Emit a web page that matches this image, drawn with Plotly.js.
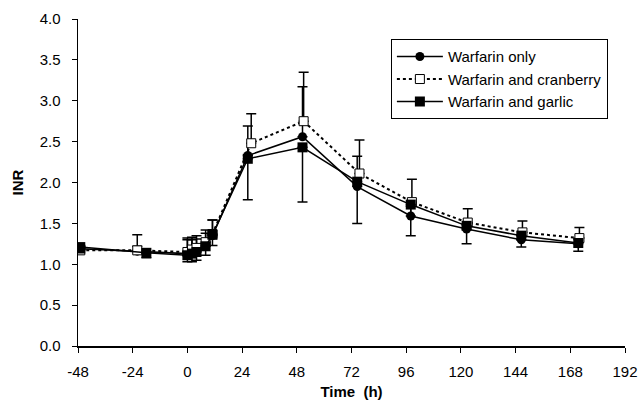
<!DOCTYPE html>
<html>
<head>
<meta charset="utf-8">
<script src="https://cdn.plot.ly/plotly-3.0.1.min.js"></script>
<style>html,body{margin:0;padding:0;background:#fff}#chart{width:639px;height:401px}</style>
</head>
<body>
<div id="chart"></div>
<script>
// Data
const seriesNames = ["Warfarin only", "Warfarin and cranberry", "Warfarin and garlic"];

const timeWarfarin = [-47, -22, 0, 2, 4, 8, 11, 26.5, 50.5, 74.5, 98, 122.5, 146.5, 171.5];
const inrWarfarin  = [1.19, 1.16, 1.13, 1.15, 1.18, 1.23, 1.35, 2.33, 2.56, 1.95, 1.59, 1.43, 1.30, 1.25];
const errUpWarfarin = [0.04, 0.06, 0.17, 0.15, 0.13, 0.15, 0.19, 0.36, 0.61, 0.37, 0.12, 0.06, 0.06, 0.06];

const timeCranberry = [-47, -22, 0, 2, 4, 8, 11, 28, 51, 75.5, 98.5, 123, 147, 172];
const inrCranberry  = [1.17, 1.17, 1.15, 1.18, 1.20, 1.27, 1.37, 2.48, 2.75, 2.11, 1.76, 1.51, 1.39, 1.32];
const errUpCranberry = [0.05, 0.19, 0.17, 0.15, 0.15, 0.15, 0.17, 0.36, 0.60, 0.41, 0.28, 0.17, 0.14, 0.13];

const timeGarlic = [-47, -18, 0, 2, 4, 8, 11, 26.5, 50.5, 74.5, 98, 122.5, 146.5, 171.5];
const inrGarlic  = [1.21, 1.14, 1.11, 1.13, 1.15, 1.22, 1.36, 2.29, 2.43, 2.01, 1.73, 1.47, 1.35, 1.26];
const errDownGarlic = [0.07, 0.06, 0.08, 0.10, 0.10, 0.11, 0.13, 0.50, 0.67, 0.51, 0.38, 0.22, 0.14, 0.10];

const xTicks = [-48, -24, 0, 24, 48, 72, 96, 120, 144, 168, 192];
const yTicks = [0, 0.5, 1, 1.5, 2, 2.5, 3, 3.5, 4];

const zeros = n => new Array(n).fill(0);

const traces = [
  {
    x: timeWarfarin, y: inrWarfarin, name: seriesNames[0], type: "scatter", mode: "lines+markers",
    line: {color: "#000", width: 1.5},
    marker: {symbol: "circle", size: 9, color: "#000"},
    error_y: {type: "data", symmetric: false, array: errUpWarfarin, arrayminus: zeros(timeWarfarin.length),
              color: "#000", thickness: 1.5, width: 5}
  },
  {
    x: timeCranberry, y: inrCranberry, name: seriesNames[1], type: "scatter", mode: "lines+markers",
    line: {color: "#000", width: 2, dash: "dot"},
    marker: {symbol: "square", size: 9, color: "#fff", line: {color: "#000", width: 1}},
    error_y: {type: "data", symmetric: false, array: errUpCranberry, arrayminus: zeros(timeCranberry.length),
              color: "#000", thickness: 1.5, width: 5}
  },
  {
    x: timeGarlic, y: inrGarlic, name: seriesNames[2], type: "scatter", mode: "lines+markers",
    line: {color: "#000", width: 1.5},
    marker: {symbol: "square", size: 10, color: "#000"},
    error_y: {type: "data", symmetric: false, array: zeros(timeGarlic.length), arrayminus: errDownGarlic,
              color: "#000", thickness: 1.5, width: 5}
  }
];

const layout = {
  width: 639, height: 401,
  margin: {l: 78, r: 14, t: 19, b: 55},
  paper_bgcolor: "#fff", plot_bgcolor: "#fff",
  font: {family: "Arial, Liberation Sans, sans-serif", size: 15, color: "#000"},
  showlegend: true,
  legend: {
    x: 0.572, y: 0.938, xanchor: "left", yanchor: "top",
    bordercolor: "#000", borderwidth: 1, bgcolor: "#fff",
    font: {size: 15, color: "#000"}, tracegroupgap: 0, itemwidth: 46
  },
  xaxis: {
    range: [-48, 192], tickvals: xTicks, ticktext: xTicks.map(String),
    showgrid: false, zeroline: false, showline: true, linecolor: "#000", linewidth: 1.5,
    ticks: "outside", ticklen: 5, tickcolor: "#000", tickwidth: 1,
    ticklabelstandoff: 6,
    tickfont: {size: 15},
    title: {text: "<b>Time  (h)</b>", font: {size: 15}, standoff: 8}
  },
  yaxis: {
    range: [0, 4], tickvals: yTicks, ticktext: yTicks.map(v => v.toFixed(1)),
    showgrid: false, zeroline: false, showline: true, linecolor: "#000", linewidth: 1.5,
    ticks: "outside", ticklen: 5, tickcolor: "#000", tickwidth: 1,
    ticklabelstandoff: 8,
    tickfont: {size: 15},
    title: {text: "<b>INR</b>", font: {size: 15}, standoff: 12}
  }
};

Plotly.newPlot("chart", traces, layout, {staticPlot: true, displayModeBar: false});
</script>
</body>
</html>
